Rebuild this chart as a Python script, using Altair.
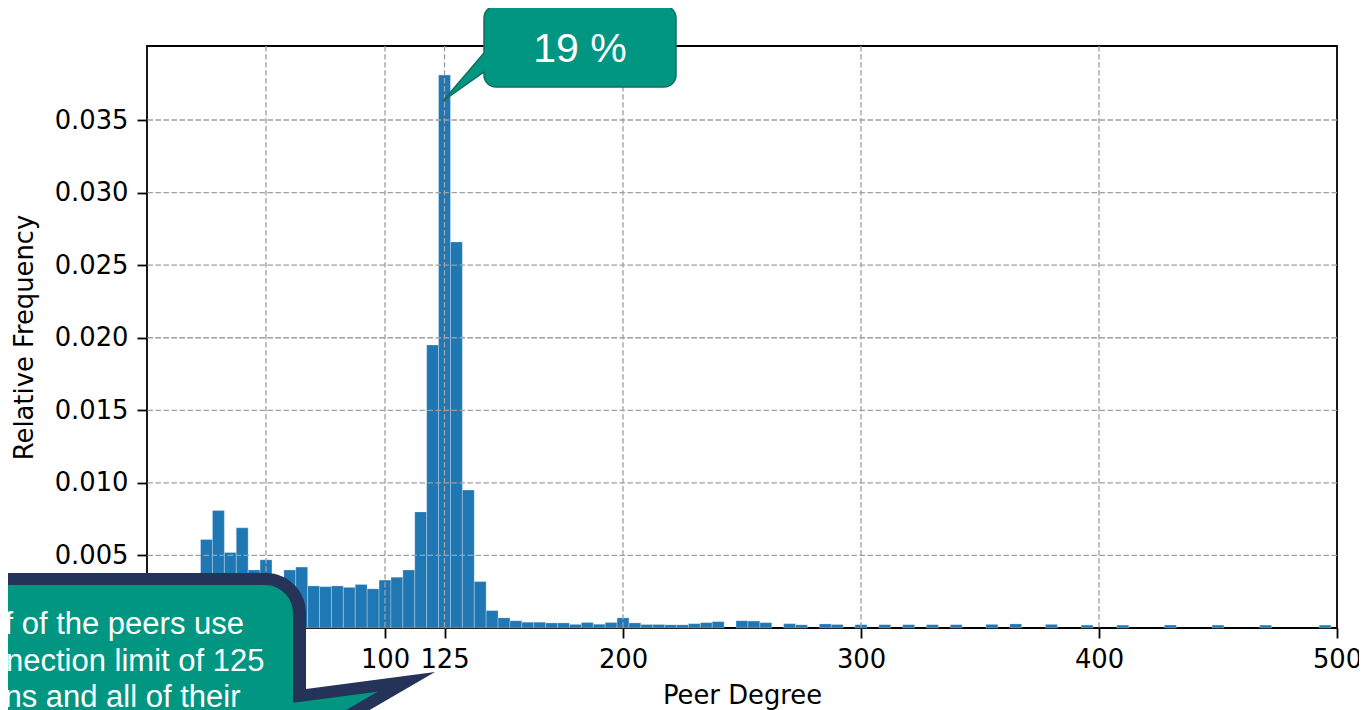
import altair as alt
import pandas as pd

# ---------------- data ----------------
bin_width = 5
bin_centers = list(range(25, 500, 5))
rel_freq = [
    0.0061, 0.0081, 0.0052, 0.0069, 0.0040, 0.0047, 0.0034, 0.0040, 0.0042, 0.0029,
    0.00285, 0.0029, 0.0028, 0.0030, 0.0027, 0.0033, 0.0035, 0.0040, 0.0080, 0.0195,
    0.0381, 0.0266, 0.0095, 0.0032, 0.0012, 0.0007, 0.0005, 0.0004, 0.0004, 0.00035,
    0.00035, 0.00025, 0.00038, 0.00026, 0.00038, 0.0007, 0.00035, 0.00024, 0.00024, 0.00022,
    0.00022, 0.0003, 0.00037, 0.00044, 0.0, 0.0005, 0.00048, 0.00037, 0.0, 0.0003,
    0.00022, 0.0, 0.00028, 0.00024, 0.0, 0.00023, 0.0, 0.00023, 0.0, 0.00023,
    0.0, 0.00023, 0.0, 0.00023, 0.0, 0.0, 0.00025, 0.0, 0.00028, 0.0,
    0.0, 0.00025, 0.0, 0.0, 0.0002, 0.0, 0.0, 0.0002, 0.0, 0.0,
    0.0, 0.0002, 0.0, 0.0, 0.0, 0.0002, 0.0, 0.0, 0.0, 0.0002,
    0.0, 0.0, 0.0, 0.0, 0.0002,
]
x_ticks = [0, 50, 100, 125, 200, 300, 400, 500]
y_ticks = [0.0, 0.005, 0.010, 0.015, 0.020, 0.025, 0.030, 0.035]
x_title = "Peer Degree"
y_title = "Relative Frequency"
peak_label = "19 %"
note_lines = ["f of the peers use", "nection limit of 125", "ns and all of their"]

# ---------------- styling ----------------
FONT = "DejaVu Sans"
FS = 25.8
TEAL = "#009681"
NAVY = "#243357"
W, H = 1190, 582
OX, OY = 147, 46  # plot origin on the page

df = pd.DataFrame({"c": bin_centers, "f": rel_freq})
df = df[df["f"] > 0].copy()
df["x0"] = df["c"] - bin_width / 2
df["x1"] = df["c"] + bin_width / 2

xscale = alt.Scale(domain=[0, 500], nice=False, zero=False)
yscale = alt.Scale(domain=[0, 0.0401], nice=False)

xaxis = alt.Axis(
    values=x_ticks, title=x_title, grid=False, domain=False,
    tickSize=10, tickWidth=1.8, tickColor="black",
    labelFont=FONT, labelFontSize=FS, labelColor="black",
    labelPadding=9, labelFlush=False, labelOverlap=False,
    titleFont=FONT, titleFontSize=FS, titleFontWeight="normal", titleColor="black",
    titleBaseline="alphabetic", titleY=75,
)
yaxis = alt.Axis(
    values=y_ticks, format=".3f", title=y_title, grid=False, domain=False,
    tickSize=10, tickWidth=1.8, tickColor="black",
    labelFont=FONT, labelFontSize=FS, labelColor="black", labelPadding=9,
    labelOverlap=False, labelFlush=False,
    titleFont=FONT, titleFontSize=FS, titleFontWeight="normal", titleColor="black",
    titleX=-123, titleY=H / 2, titleBaseline="middle", titleAlign="center",
)

bars = alt.Chart(df).mark_bar(
    color="#1f77b4", stroke="#ffffff", strokeOpacity=0.35, strokeWidth=0.8
).encode(
    x=alt.X("x0:Q", scale=xscale, axis=xaxis),
    x2="x1:Q",
    y=alt.Y("f:Q", scale=yscale, axis=yaxis),
    y2=alt.datum(0),
)

grid_style = dict(color="#a0a0a0", strokeWidth=1.3, strokeDash=[5.5, 2.5])
vgrid = alt.Chart(pd.DataFrame({"x0": [t for t in x_ticks if 0 < t < 500]})).mark_rule(
    **grid_style).encode(x=alt.X("x0:Q", scale=xscale, axis=xaxis))
hgrid = alt.Chart(pd.DataFrame({"f": [t for t in y_ticks if t > 0]})).mark_rule(
    **grid_style).encode(y=alt.Y("f:Q", scale=yscale, axis=yaxis))

# ---------------- callouts (page coordinates, anchored at page origin) ----------------
top_callout = ("M496,6 H664 A12,12 0 0 1 676,18 V75 A12,12 0 0 1 664,87 H496 "
               "A12,12 0 0 1 484,75 V72 L443,101 L484,53 V18 A12,12 0 0 1 496,6 Z")
bot_outer = ("M-60,573 H266 A40,40 0 0 1 306,613 V689 L435,672 L306,747 V770 H-60 Z")
bot_inner = ("M-60,585 H265 A28,28 0 0 1 293,613 V702.8 L377.6,691.7 L293,741 V770 H-60 Z")

one = pd.DataFrame({"a": [0]})


def shape(path, fill, **kw):
    return alt.Chart(one).mark_point(
        shape=path, size=4, filled=True, fill=fill, opacity=1, **kw
    ).encode(x=alt.value(-OX), y=alt.value(-OY))


callout_top = shape(top_callout, TEAL, stroke="#0e6e5f", strokeWidth=1.5, strokeOpacity=1)
callout_bot_o = shape(bot_outer, NAVY, strokeWidth=0)
callout_bot_i = shape(bot_inner, TEAL, strokeWidth=0)

peak_text = alt.Chart(pd.DataFrame({"t": [peak_label]})).mark_text(
    font="Liberation Sans", fontSize=41, color="white", align="center", baseline="alphabetic"
).encode(x=alt.value(580 - OX), y=alt.value(62.3 - OY), text="t:N")

note_x = [244, 264.5, 240.5]
note_y = [634.3, 671, 706.7]
note_layers = [
    alt.Chart(pd.DataFrame({"t": [txt]})).mark_text(
        font="Liberation Sans", fontSize=31, color="white", align="right", baseline="alphabetic"
    ).encode(x=alt.value(nx - OX), y=alt.value(ny - OY), text="t:N")
    for txt, nx, ny in zip(note_lines, note_x, note_y)
]

chart = alt.layer(
    bars, vgrid, hgrid, callout_top, peak_text, callout_bot_o, callout_bot_i, *note_layers
).properties(
    width=W, height=H, background="white",
    autosize=alt.AutoSizeParams(type="none"),
    padding={"left": OX - 8, "top": OY - 8, "right": 22, "bottom": 82},
).configure_view(
    stroke="black", strokeWidth=1.8
)

chart.save("out.html", embed_options={"renderer": "svg", "actions": False})
